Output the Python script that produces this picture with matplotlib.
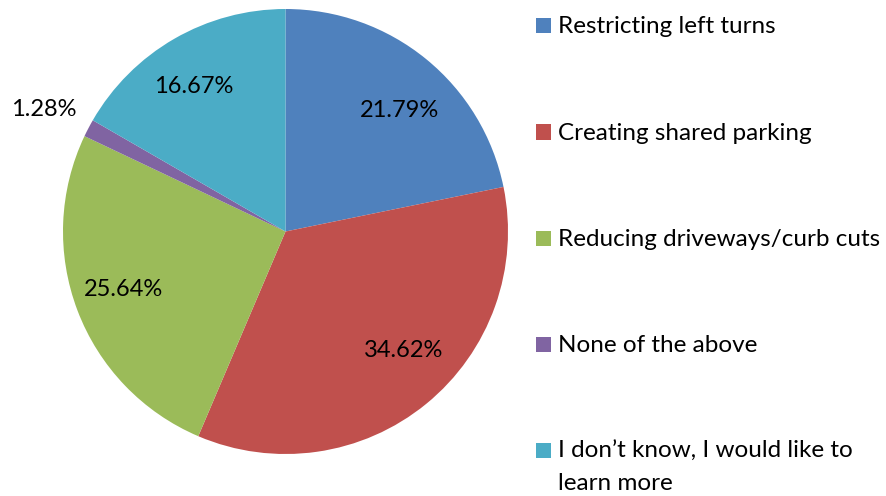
import matplotlib
matplotlib.use("Agg")
import matplotlib.pyplot as plt
from matplotlib.patches import Rectangle
import numpy as np

categories = [
    "Restricting left turns",
    "Creating shared parking",
    "Reducing driveways/curb cuts",
    "None of the above",
    "I don\u2019t know, I would like to\nlearn more",
]
values = [21.79, 34.62, 25.64, 1.28, 16.67]
colors = ["#4F81BD", "#C0504D", "#9BBB59", "#8064A2", "#4BACC6"]
pct_labels = [f"{v:.2f}%" for v in values]

plt.rcParams['font.family'] = ['Lato', 'DejaVu Sans']
FS_LAB = 17
FS_LEG = 17.5

W, H = 886, 496
fig = plt.figure(figsize=(W / 100, H / 100), dpi=100)
cx, cy, r = 285.5, 231.5, 222.5
ax = fig.add_axes([(cx - r) / W, (H - cy - r) / H, 2 * r / W, 2 * r / H])
wedges, _ = ax.pie(values, colors=colors, startangle=90, counterclock=False,
                   radius=1, wedgeprops=dict(linewidth=0))
ax.set_xlim(-1, 1)
ax.set_ylim(-1, 1)
ax.set_aspect('equal')
ax.axis('off')

# label placement (distance from centre, angle offset from wedge middle)
dists = [0.755, 0.745, 0.771, 1.222, 0.7775]
ang_off = [-3.7, 6.1, -1.6, 0.5, 2.1]
for w, lab, d, off in zip(wedges, pct_labels, dists, ang_off):
    ang = np.deg2rad((w.theta1 + w.theta2) / 2 + off)
    ax.text(d * np.cos(ang), d * np.sin(ang), lab, ha='center', va='center_baseline',
            fontsize=FS_LAB, color='black')

# legend
sq = 15
x_sq = 536
x_txt = 558
y0 = 18.3
step = 106.2
line_gap = 32
for i, (cat, col) in enumerate(zip(categories, colors)):
    ytop = y0 + i * step
    fig.add_artist(Rectangle((x_sq / W, (H - ytop - sq) / H), sq / W, sq / H,
                             transform=fig.transFigure, facecolor=col, edgecolor='none'))
    for j, line in enumerate(cat.split("\n")):
        fig.text(x_txt / W, (H - ytop - sq - j * line_gap) / H, line, ha='left',
                 va='baseline', fontsize=FS_LEG, color='black')

fig.savefig("out.png", dpi=100)
